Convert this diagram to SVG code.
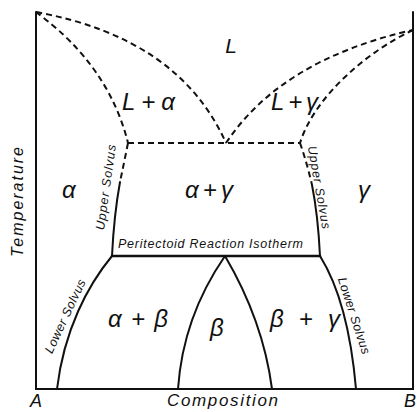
<svg xmlns="http://www.w3.org/2000/svg" width="418" height="412" viewBox="0 0 418 412">
<style>
.s{fill:none;stroke:#111;stroke-width:2;stroke-linecap:round}
.d{fill:none;stroke:#111;stroke-width:2;stroke-dasharray:6 4}
.t{font-family:"Liberation Sans",Arial,sans-serif;font-style:italic;fill:#111}
.big{font-size:24px}
.sm{font-size:12.5px}
</style>
<rect width="418" height="412" fill="#fff"/>
<g id="axes">
<path class="s" d="M36,12 V389 H413 V12"/>
</g>
<g id="connectors">
<path class="d" d="M36,12 Q179,38 226,143"/>
<path class="d" d="M226,143 Q281.5,59.5 413,30"/>
<path class="d" d="M36,12 C60,30 110,70 128,143"/>
<path class="d" d="M413,30 C370,50 315,95 300,143"/>
<path class="d" d="M128,143 H300"/>
<path class="d" d="M128,143 Q124,163 120,182"/>
<path class="s" d="M120,182 Q114,215 112,256"/>
<path class="d" d="M300,143 Q307,163 312,185"/>
<path class="s" d="M312,185 Q318,215 320,256"/>
<path class="s" d="M112,256 H320" style="stroke-width:2.6"/>
<path class="s" d="M112,256 C88,285 64,330 57,389"/>
<path class="s" d="M225,256 C205,285 182,330 178,389"/>
<path class="s" d="M225,256 C245,290 265,335 272,389"/>
<path class="s" d="M320,256 C335,280 350,320 356,389"/>
</g>
<g id="region-L"><text class="t" font-size="21" x="231" y="53" text-anchor="middle">L</text></g>
<g id="region-L-alpha"><text class="t big" x="122" y="110" textLength="53" lengthAdjust="spacing">L+α</text></g>
<g id="region-L-gamma"><text class="t big" x="271" y="110" textLength="47" lengthAdjust="spacing">L+γ</text></g>
<g id="region-alpha"><text class="t big" x="62" y="198">α</text></g>
<g id="region-alpha-gamma"><text class="t big" x="185" y="198" textLength="48" lengthAdjust="spacing">α+γ</text></g>
<g id="region-gamma"><text class="t big" x="358" y="198">γ</text></g>
<g id="region-alpha-beta"><text class="t big" x="108" y="327" textLength="60" lengthAdjust="spacing">α+β</text></g>
<g id="region-beta"><text class="t big" x="210" y="336">β</text></g>
<g id="region-beta-gamma"><text class="t big" x="270" y="327" textLength="70" lengthAdjust="spacing">β+γ</text></g>
<g id="labels">
<text class="t sm" x="118" y="248" textLength="185" lengthAdjust="spacing">Peritectoid Reaction Isotherm</text>
<text class="t sm" text-anchor="middle" textLength="86" lengthAdjust="spacing" transform="translate(110,188) rotate(-82)">Upper Solvus</text>
<text class="t sm" text-anchor="middle" textLength="84" lengthAdjust="spacing" transform="translate(315,188) rotate(80)">Upper Solvus</text>
<text class="t sm" text-anchor="middle" textLength="80" lengthAdjust="spacing" transform="translate(69,318) rotate(-65)">Lower Solvus</text>
<text class="t sm" text-anchor="middle" textLength="80" lengthAdjust="spacing" transform="translate(350,317) rotate(72)">Lower Solvus</text>
<text class="t" font-size="16" text-anchor="middle" textLength="110" lengthAdjust="spacing" transform="translate(23,202) rotate(-90)">Temperature</text>
<text class="t" font-size="18" x="30" y="407">A</text>
<text class="t" font-size="17" x="167" y="406" textLength="111" lengthAdjust="spacing">Composition</text>
<text class="t" font-size="18" x="404" y="407">B</text>
</g>
</svg>
